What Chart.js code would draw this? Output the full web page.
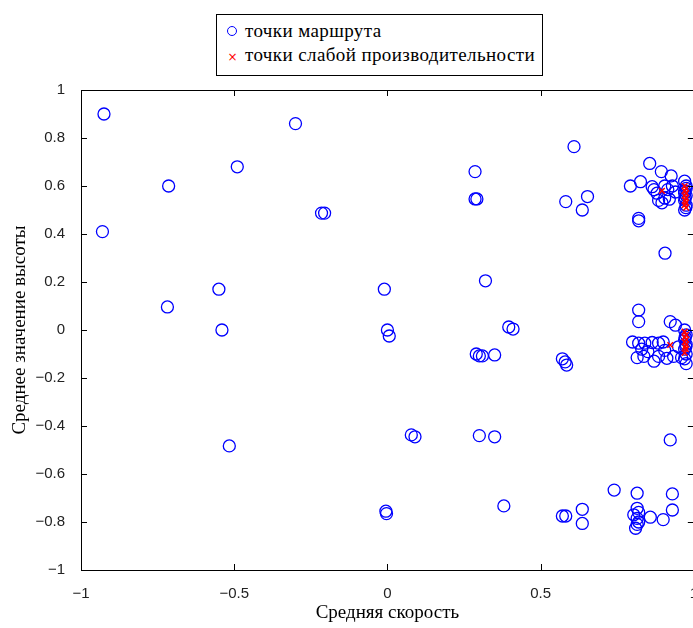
<!DOCTYPE html>
<html>
<head>
<meta charset="utf-8">
<script src="https://cdn.jsdelivr.net/npm/chart.js@4/dist/chart.umd.min.js"></script>
<style>
  html, body { margin: 0; padding: 0; overflow: hidden; background: #fff; }
  #wrap { position: relative; width: 705px; height: 628px; }
  #legend {
    position: absolute; left: 216px; top: 14px; width: 325px; height: 60px;
    border: 1px solid #000; background: #fff;
    font-family: "Liberation Serif", "DejaVu Serif", serif; font-size: 19px; color: #000;
  }
  .item { position: absolute; left: 10px; white-space: nowrap; letter-spacing: 0.4px; }
  .ring { display: inline-block; width: 8px; height: 8px; border: 1.5px solid #00f; border-radius: 50%; margin-right: 8px; vertical-align: 1px; }
  .cross { display: inline-block; width: 11px; color: #f00; font-family: "DejaVu Sans", sans-serif; font-size: 12px; margin-right: 7px; text-align: center; letter-spacing: 0; }
</style>
</head>
<body>
<div id="wrap">
  <canvas id="scatterChart" width="705" height="628"></canvas>
  <div id="legend">
    <div class="item" style="top: 5px;"><span class="ring"></span>точки маршрута</div>
    <div class="item" style="top: 29px;"><span class="cross">×</span>точки слабой производительности</div>
  </div>
</div>
<script>
// route points (blue circles)
const routeSpeed = [
  -0.925, -0.93, -0.714, -0.718, -0.49, -0.55, -0.54, -0.516, -0.30, -0.215, -0.205,
  -0.01, 0.0, 0.006, -0.005, -0.003, 0.078, 0.09, 0.286, 0.286, 0.292, 0.32,
  0.29, 0.30, 0.31, 0.35, 0.30, 0.35, 0.38, 0.396, 0.41,
  0.582, 0.609, 0.636, 0.653, 0.571, 0.58, 0.585, 0.571, 0.582, 0.636, 0.636, 0.74,
  // top cluster
  0.856, 0.894, 0.926, 0.793, 0.826, 0.864, 0.87, 0.88, 0.905, 0.915, 0.93, 0.94,
  0.885, 0.896, 0.905, 0.92, 0.82, 0.82, 0.906,
  0.97, 0.975, 0.97, 0.975, 0.97, 0.975, 0.97, 0.975, 0.97, 0.972, 0.974,
  // middle cluster
  0.82, 0.82, 0.923, 0.94, 0.80, 0.82, 0.84, 0.864, 0.885, 0.90,
  0.815, 0.837, 0.885, 0.912, 0.934, 0.96, 0.85, 0.87, 0.83, 0.905, 0.95,
  0.97, 0.975, 0.97, 0.975, 0.97, 0.975, 0.97, 0.975, 0.972, 0.974,
  // bottom cluster
  0.923, 0.815, 0.93, 0.815, 0.93, 0.804, 0.815, 0.82, 0.81, 0.815, 0.82, 0.858, 0.90
];
const routeHeight = [
  0.9, 0.41, 0.6, 0.096, 0.68, 0.17, 0.0, -0.483, 0.86, 0.487, 0.487,
  0.17, 0.0, -0.025, -0.755, -0.765, -0.437, -0.445, 0.66, 0.546, 0.546, 0.205,
  -0.1, -0.108, -0.108, -0.104, -0.44, -0.445, -0.733, 0.0125, 0.004,
  0.535, 0.764, 0.5, 0.556, -0.12, -0.133, -0.146, -0.775, -0.775, -0.747, -0.806, -0.667,
  0.694, 0.66, 0.642, 0.6, 0.618, 0.597, 0.585, 0.57, 0.6, 0.585, 0.6, 0.575,
  0.54, 0.53, 0.55, 0.545, 0.455, 0.465, 0.32,
  0.62, 0.6, 0.58, 0.56, 0.54, 0.52, 0.5, 0.59, 0.57, 0.55, 0.51,
  0.083, 0.035, 0.035, 0.02, -0.05, -0.055, -0.055, -0.052, -0.055, -0.05,
  -0.115, -0.11, -0.11, -0.118, -0.11, -0.115, -0.09, -0.13, -0.08, -0.085, -0.07,
  0.0, -0.02, -0.04, -0.06, -0.08, -0.1, -0.12, -0.14, -0.03, -0.07,
  -0.458, -0.68, -0.683, -0.743, -0.75, -0.77, -0.785, -0.8, -0.826, -0.81, -0.76, -0.78, -0.79
];

// low performance points (red crosses)
const lowSpeed = [
  0.896, 0.97, 0.975, 0.97, 0.975, 0.97, 0.975, 0.972, 0.974, 0.97, 0.975,
  0.923, 0.97, 0.975, 0.97, 0.975, 0.97, 0.975, 0.972, 0.974, 0.97
];
const lowHeight = [
  0.58, 0.6, 0.59, 0.58, 0.57, 0.56, 0.55, 0.54, 0.53, 0.52, 0.51,
  -0.0625, -0.007, -0.02, -0.03, -0.04, -0.05, -0.06, -0.07, -0.08, -0.095
];

const xTicks = [-1, -0.5, 0, 0.5, 1];
const yTicks = [-1, -0.8, -0.6, -0.4, -0.2, 0, 0.2, 0.4, 0.6, 0.8, 1];

const toPoints = (xs, ys) => xs.map((x, i) => ({ x: x, y: ys[i] }));
const fmt = v => {
  const n = Number(v.toFixed(2));
  return n < 0 ? '\u2212' + String(-n) : String(n);
};

// box + inward ticks, MATLAB style
const boxPlugin = {
  id: 'box',
  afterDraw(chart) {
    const { ctx, chartArea: a, scales } = chart;
    ctx.save();
    ctx.strokeStyle = '#000';
    ctx.lineWidth = 1;
    ctx.strokeRect(a.left + 0.5, a.top + 0.5, a.right - a.left, a.bottom - a.top);
    const len = 6;
    ctx.beginPath();
    xTicks.forEach(v => {
      const px = Math.round(scales.x.getPixelForValue(v)) + 0.5;
      ctx.moveTo(px, a.bottom); ctx.lineTo(px, a.bottom - len);
      ctx.moveTo(px, a.top); ctx.lineTo(px, a.top + len);
    });
    yTicks.forEach(v => {
      const py = Math.round(scales.y.getPixelForValue(v)) + 0.5;
      ctx.moveTo(a.left, py); ctx.lineTo(a.left + len, py);
      ctx.moveTo(a.right, py); ctx.lineTo(a.right - len, py);
    });
    ctx.stroke();
    ctx.restore();
  }
};

const ctx = document.getElementById('scatterChart').getContext('2d');
const chart = new Chart(ctx, {
  type: 'scatter',
  data: {
    datasets: [
      {
        label: 'точки слабой производительности',
        data: toPoints(lowSpeed, lowHeight),
        pointStyle: 'crossRot',
        radius: 4,
        borderColor: '#ff0000',
        borderWidth: 1.5,
        order: 0
      },
      {
        label: 'точки маршрута',
        data: toPoints(routeSpeed, routeHeight),
        pointStyle: 'circle',
        radius: 6,
        backgroundColor: 'rgba(0,0,0,0)',
        borderColor: '#0000ff',
        borderWidth: 1.3,
        order: 1
      }
    ]
  },
  options: {
    responsive: false,
    animation: false,
    layout: { padding: { top: 90, right: 8, left: 0, bottom: 0 } },
    plugins: { legend: { display: false }, tooltip: { enabled: false } },
    scales: {
      x: {
        type: 'linear', min: -1, max: 1,
        afterBuildTicks: s => { s.ticks = xTicks.map(v => ({ value: v })); },
        afterFit: s => { s.height = 58; },
        grid: { display: false },
        border: { display: false },
        ticks: {
          callback: fmt, color: '#222', padding: 7,
          font: { family: 'Liberation Sans', size: 15 }
        },
        title: {
          display: true, text: 'Средняя скорость', color: '#000', padding: { top: 13 },
          font: { family: 'Liberation Serif', size: 19 }
        }
      },
      y: {
        type: 'linear', min: -1, max: 1,
        afterBuildTicks: s => { s.ticks = yTicks.map(v => ({ value: v })); },
        afterFit: s => { s.width = 81; },
        grid: { display: false },
        border: { display: false },
        ticks: {
          callback: fmt, color: '#222', padding: 8,
          font: { family: 'Liberation Sans', size: 15 }
        },
        title: {
          display: true, text: 'Среднее значение высоты', color: '#000', padding: { top: 9, bottom: 0 },
          font: { family: 'Liberation Serif', size: 19 }
        }
      }
    }
  },
  plugins: [boxPlugin]
});
</script>
</body>
</html>
